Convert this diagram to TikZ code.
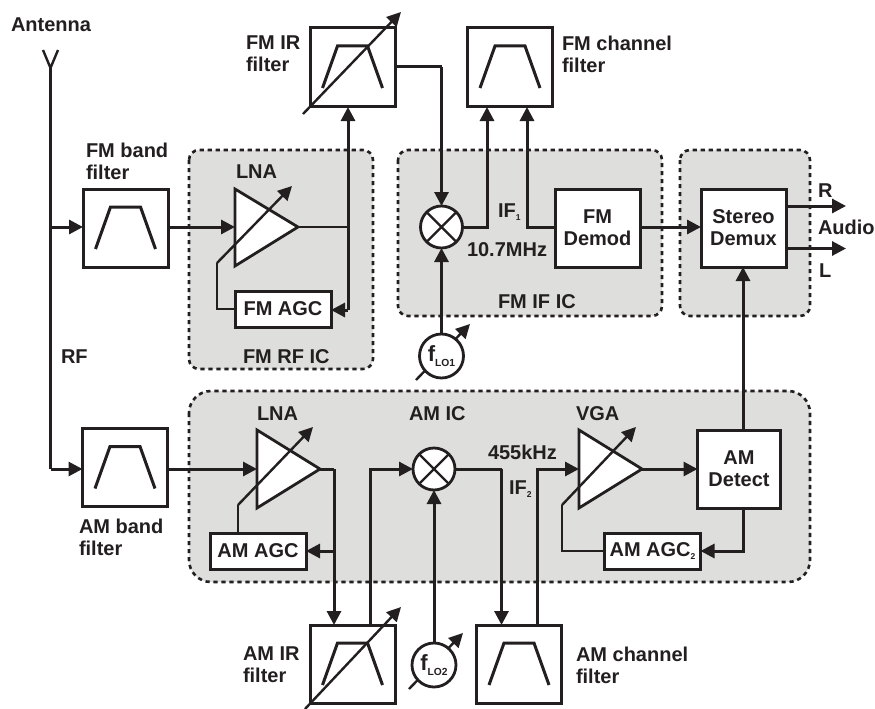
\documentclass[tikz,border=0pt]{standalone}
\usepackage{fontspec}
\setmainfont{Liberation Sans}[BoldFont={Liberation Sans Bold}]
\usetikzlibrary{arrows.meta,calc}
\definecolor{ink}{HTML}{231F20}
\definecolor{chip}{HTML}{DEDEDC}
\newcommand{\subs}[1]{\raisebox{-3pt}{\fontsize{8.5}{8.5}\selectfont #1}}
\newcommand{\losub}[1]{\raisebox{-5pt}{\fontsize{10.3}{10.3}\selectfont #1}}
\tikzset{
  every node/.style={inner sep=0pt,outer sep=0pt,text=ink,font=\bfseries\fontsize{20}{22}\selectfont},
  lbl/.style={align=left,anchor=west},
  one/.style={anchor=base west},
  chipbox/.style={draw=ink,fill=chip,line width=2.6pt,dash pattern=on 4.2pt off 3.8pt},
  blk/.style={draw=ink,fill=white,line width=3pt,align=center},
  agc/.style={blk,minimum width=96pt,minimum height=36pt},
  filt/.style={blk,minimum width=85pt,minimum height=78pt},
  mix/.style={circle,draw=ink,fill=white,line width=2.8pt,minimum size=42pt,
    path picture={\draw[ink,line width=2.4pt] (path picture bounding box.north west)--(path picture bounding box.south east)
      (path picture bounding box.north east)--(path picture bounding box.south west);}},
  lo/.style={circle,draw=ink,fill=white,line width=2.8pt,minimum size=44pt},
  wire/.style={draw=ink,line width=3pt,line join=miter},
  arr/.style={wire,-{Triangle[length=14pt,width=14pt]}},
  thinarr/.style={draw=ink,line width=2.4pt,-{Triangle[length=14pt,width=14pt]}},
  amp/.style={draw=ink,fill=white,line width=2.8pt,line join=miter},
  pass/.style={draw=ink,line width=3pt,line join=miter},
}
% trapezoid passband drawn relative to a filter node
\newcommand{\passband}[1]{\draw[pass] ($(#1.center)+(-30,21)$)--($(#1.center)+(-15,-21)$)--($(#1.center)+(15,-21)$)--($(#1.center)+(30,21)$);}
\begin{document}
\begin{tikzpicture}[x=1pt,y=-1pt]
\useasboundingbox (0,0) rectangle (875,709);
% chip regions
\draw[chipbox,rounded corners=10pt] (189,150) rectangle (373,369);
\draw[chipbox,rounded corners=10pt] (398,150) rectangle (662,316);
\draw[chipbox,rounded corners=10pt] (680,150) rectangle (810,316);
\draw[chipbox,rounded corners=22pt] (189,391) rectangle (810,582);
% blocks
\node[filt] (fmband) at (125.5,228) {};
\node[filt] (amband) at (125,467.5) {};
\node[filt] (fmir) at (352.5,67) {};
\node[filt] (fmch) at (510,67) {};
\node[filt] (amir) at (352.5,664) {};
\node[filt] (amch) at (519,664) {};
\node[filt] (fmdem) at (597.5,228) {FM\\Demod};
\node[filt] (stereo) at (743.5,228) {Stereo\\Demux};
\node[filt,minimum width=83pt] (amdet) at (739,469) {AM\\Detect};
\node[agc] (fmagc) at (283,309) {FM AGC};
\node[agc] (amagc) at (258,551) {AM AGC};
\node[agc] (amagcb) at (652.5,551) {AM AGC\subs{2}};
\node[mix] (mixa) at (441.5,227) {};
\node[mix] (mixb) at (434,469) {};
% tuning arrows of the oscillators pass behind their circles
\draw[thinarr] (416,380)--(470,324);
\draw[thinarr] (409,689)--(463,633);
\node[lo] (loa) at (441.5,356) {\fontsize{22}{22}\selectfont f\losub{LO1}};
\node[lo] (lob) at (434,665) {\fontsize{22}{22}\selectfont f\losub{LO2}};
\passband{fmband}\passband{amband}\passband{fmir}\passband{fmch}\passband{amir}\passband{amch}
% amplifiers
\coordinate (lnaain) at (235,227); \coordinate (lnaaout) at (298,227);
\coordinate (lnabin) at (257,469); \coordinate (lnabout) at (320,469);
\coordinate (vgain) at (579,469);  \coordinate (vgaout) at (642,469);
\draw[amp] (235,189)--(lnaaout)--(235,266)--cycle;
\draw[amp] (257,430)--(lnabout)--(257,508)--cycle;
\draw[amp] (579,430)--(vgaout)--(579,508)--cycle;
% free ends and junctions
\coordinate (anttop) at (50.5,68);
\coordinate (antl) at (43,50); \coordinate (antr) at (58,50);
\coordinate (antbody) at (50.5,107);
\coordinate (rfa) at (50.5,227);
\coordinate (rfb) at (50.5,469);
\coordinate (taila) at (217,263); \coordinate (tipa) at (292,186);
\coordinate (tailb) at (238,505); \coordinate (tipb) at (313,427);
\coordinate (tailc) at (562,505); \coordinate (tipc) at (636,427);
% antenna
\draw[wire,line width=2.4pt] (antl)--(anttop)--(antr);
\draw[wire,line width=3.4pt] (anttop)--(antbody);
\draw[wire,line width=2.6pt] (antbody)--(rfb);
\draw[arr] (rfa)--(rfa-|fmband.west);
\draw[arr] (rfb)--(rfb-|amband.west);
% FM path
\draw[arr] (fmband.east|-lnaain)--(lnaain);
\draw[wire,line width=2.4pt] (lnaaout)--(348,227);
\draw[arr] (348,310)--(348,107);
\draw[arr] (348,310)--(fmagc.east|-0,310);
\draw[wire,line width=2.4pt] (fmagc.west)--(217,309)--(taila);
\draw[thinarr] (taila)--(tipa);
\draw[wire] (fmir.east)--(mixa.north|-fmir.east);
\draw[arr] (mixa.north|-fmir.east)--(mixa.north);
\draw[arr] (mixa.east)--(487,227)--(487,107);
\draw[arr] (fmdem.west|-mixa)--(527,227)--(527,107);
\draw[arr] (fmdem.east|-mixa)--(stereo.west|-mixa);
\draw[arr] (stereo.east|-0,206)--(846,206);
\draw[arr] (stereo.east|-0,248.5)--(846,248.5);
\draw[arr] (loa.north)--(mixa.south);
\draw[thinarr] (303,114)--(401,12);
% AM path
\draw[arr] (amband.east|-lnabin)--(lnabin);
\draw[wire] (lnabout)--(334,469);
\draw[arr] (334,469)--(334,625);
\draw[arr] (334,551)--(amagc.east);
\draw[wire,line width=2.4pt] (amagc.north-|tailb)--(tailb);
\draw[thinarr] (tailb)--(tipb);
\draw[arr] (370,625)--(370,469)--(mixb.west);
\draw[wire] (mixb.east)--(501.5,469);
\draw[arr] (501.5,469)--(501.5,625);
\draw[arr] (537,625)--(537,469)--(vgain);
\draw[arr] (vgaout)--(amdet.west);
\draw[arr] (lob.north)--(mixb.south);
\draw[thinarr] (305,709)--(401,607);
\draw[arr] (743,508)--(743,551)--(amagcb.east);
\draw[wire,line width=2.4pt] (amagcb.west)--(562,551)--(tailc);
\draw[thinarr] (tailc)--(tipc);
\draw[arr] (743,430)--(stereo.south-|743,0);
% labels
\node[one] (t1) at (11,32) {Antenna};
\node[one] (t2) at (61,363) {RF};
\node[lbl] (t3) at (86,161) {FM band\\filter};
\node[lbl] (t4) at (246,54) {FM IR\\filter};
\node[lbl] (t5) at (562,54) {FM channel\\filter};
\node[lbl] (t6) at (79,537) {AM band\\filter};
\node[lbl] (t7) at (243,665) {AM IR\\filter};
\node[lbl] (t8) at (576,665) {AM channel\\filter};
\node[one] (t9) at (236,178) {LNA};
\node[one] (t10) at (257,420) {LNA};
\node[one] (t11) at (576,420) {VGA};
\node[one] (t12) at (409,420) {AM IC};
\node[one] (t13) at (243,363) {FM RF IC};
\node[one] (t14) at (498,308) {FM IF IC};
\node[one] (t15) at (498,217) {IF\subs{1}};
\node[one] (t16) at (467,256) {10.7MHz};
\node[one] (t17) at (488,459) {455kHz};
\node[one] (t18) at (509,494) {IF\subs{2}};
\node[one] (t19) at (818,197) {R};
\node[one] (t20) at (818,234) {Audio};
\node[one] (t21) at (819,277) {L};
\end{tikzpicture}
\end{document}
